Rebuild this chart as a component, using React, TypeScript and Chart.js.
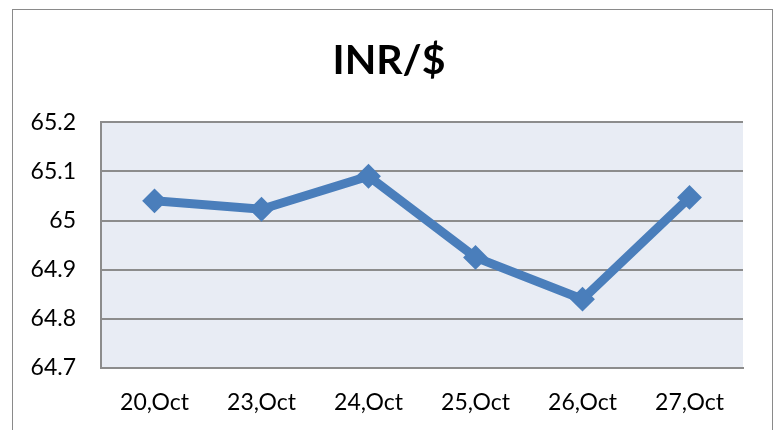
import React, { useEffect, useRef } from "react";
import { Chart, registerables } from "chart.js";

Chart.register(...registerables);

const categories = ["20,Oct", "23,Oct", "24,Oct", "25,Oct", "26,Oct", "27,Oct"];
const inrPerUsd = [65.04, 65.023, 65.09, 64.925, 64.84, 65.047];
const yTicks = [64.7, 64.8, 64.9, 65.0, 65.1, 65.2];

const FONT = "Lato, 'Open Sans', sans-serif";

const plotBg = {
  id: "plotBg",
  beforeDraw(chart: any) {
    const { ctx, chartArea } = chart;
    ctx.save();
    ctx.fillStyle = "#e8ecf4";
    ctx.fillRect(chartArea.left, chartArea.top, chartArea.right - chartArea.left, chartArea.bottom - chartArea.top);
    ctx.restore();
  },
};

export default function App() {
  const ref = useRef<HTMLCanvasElement>(null);
  useEffect(() => {
    if (!ref.current) return;
    const chart = new Chart(ref.current, {
      type: "line",
      data: {
        labels: categories,
        datasets: [
          {
            data: inrPerUsd,
            yAxisID: "y",
            borderColor: "#4a7ebb",
            backgroundColor: "#4a7ebb",
            borderWidth: 9,
            pointStyle: "rectRot",
            pointRadius: 11,
            pointBorderWidth: 2,
            pointBorderColor: "#4a7ebb",
            pointBackgroundColor: "#4a7ebb",
            tension: 0,
          },
        ],
      },
      options: {
        responsive: false,
        animation: false,
        layout: { padding: { left: 0, right: 0, top: 0, bottom: 0 } },
        plugins: {
          legend: { display: false },
          tooltip: { enabled: false },
          title: {
            display: true,
            text: "INR/$",
            color: "#000",
            font: { family: FONT, size: 41, weight: "bold" },
            padding: { top: 36, bottom: 37 },
          },
        },
        scales: {
          x: {
            offset: true,
            afterFit(scale: any) {
              scale.height = 62;
            },
            grid: { display: false, drawTicks: false },
            border: { display: true, color: "#8c8c8c", width: 2 },
            ticks: { color: "#000", font: { family: FONT, size: 23 }, padding: 21, maxRotation: 0 },
          },
          y: {
            min: yTicks[0],
            max: yTicks[yTicks.length - 1],
            afterBuildTicks(scale: any) {
              scale.ticks = yTicks.map((v) => ({ value: v }));
            },
            afterFit(scale: any) {
              scale.width = 101;
            },
            grid: { color: "#8c8c8c", lineWidth: 2, drawTicks: false },
            border: { display: true, color: "#8c8c8c", width: 2 },
            ticks: {
              color: "#000",
              font: { family: FONT, size: 23 },
              padding: 25,
              callback: (v: any) => String(Number(Number(v).toFixed(1))),
            },
          },
          yRightSpacer: {
            position: "right",
            min: yTicks[0],
            max: yTicks[yTicks.length - 1],
            grid: { display: false, drawTicks: false },
            border: { display: false },
            ticks: { display: false },
            afterFit(scale: any) {
              scale.width = 35;
            },
          },
        },
      },
      plugins: [plotBg],
    });
    return () => chart.destroy();
  }, []);
  return (
    <div style={{ position: "fixed", left: 0, top: 0, width: 778, height: 430, background: "#fff" }}>
      <canvas ref={ref} width={778} height={430} style={{ position: "absolute", left: 0, top: 0 }} />
      <div
        style={{
          position: "absolute",
          left: 12,
          top: 9,
          width: 759,
          height: 440,
          border: "1.5px solid #8a8a8a",
          pointerEvents: "none",
        }}
      />
    </div>
  );
}
